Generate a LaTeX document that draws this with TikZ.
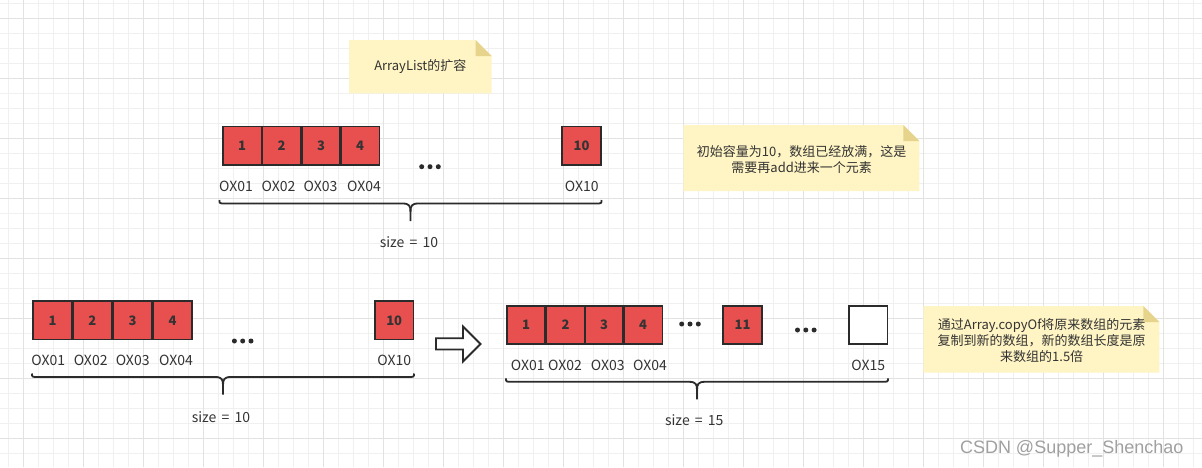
\documentclass[tikz,border=0pt]{standalone}
\usepackage{fontspec}
\setmainfont{Noto Sans CJK SC}
\newfontfamily\wmfont{Liberation Sans}
\definecolor{cellred}{HTML}{E85050}
\definecolor{boxline}{HTML}{2B2B2B}
\definecolor{txt}{HTML}{333333}
\definecolor{notefill}{HTML}{FFF4C3}
\definecolor{notefold}{HTML}{E6D38C}
\definecolor{gridminor}{HTML}{F0F0F0}
\definecolor{gridmajor}{HTML}{E2E2E2}
\definecolor{wmgray}{HTML}{A0A0A0}
\newcommand\mybrace[3]{%
  \pgfmathsetmacro\bxc{(#1+#2)/2}%
  \draw[bracestyle] (#1,#3) .. controls (#1,#3+3.5) .. (#1+6,#3+3.5) -- (\bxc-8,#3+3.5) .. controls (\bxc-1,#3+3.5) and (\bxc,#3+6) .. (\bxc,#3+12) -- (\bxc,#3+21);
  \draw[bracestyle] (\bxc,#3+12) .. controls (\bxc,#3+6) and (\bxc+1,#3+3.5) .. (\bxc+8,#3+3.5) -- (#2-6,#3+3.5) .. controls (#2,#3+3.5) .. (#2,#3);
}
\newcommand\mynote[4]{%
  \fill[notefill] (#1,#2) -- (#3-16,#2) -- (#3,#2+16) -- (#3,#4) -- (#1,#4) -- cycle;
  \fill[notefold] (#3-16,#2) -- (#3-16,#2+16) -- (#3,#2+16) -- cycle;
}
\newcommand\mydots[2]{%
  \fill[boxline] (#1-8.3,#2) circle (2.5) (#1,#2) circle (2.5) (#1+8.3,#2) circle (2.5);
}
\begin{document}
\begin{tikzpicture}[x=1pt,y=-1pt,
  cell/.style={draw=boxline, line width=1.8pt, fill=cellred, minimum width=38.5pt, minimum height=38.5pt, inner sep=0pt, font=\fontsize{13}{15}\selectfont\bfseries, text=txt},
  emptycell/.style={cell, fill=white},
  lbl/.style={font=\fontsize{14}{16}\selectfont, text=txt, inner sep=0pt},
  notetext/.style={font=\fontsize{13}{16}\selectfont, text=txt, inner sep=0pt, align=center},
  bracestyle/.style={draw=boxline, line width=1.8pt},
  bigarrow/.style={draw=boxline, line width=1.8pt, fill=white, line join=miter}]
\useasboundingbox (0,0) rectangle (1202,467);
\fill[white] (0,0) rectangle (1202,467);
% grid
\foreach \i in {0,...,79} {\draw[gridminor, line width=1pt] (8.3+15*\i,0) -- (8.3+15*\i,467);}
\foreach \i in {0,...,30} {\draw[gridminor, line width=1pt] (0,3.3+15*\i) -- (1202,3.3+15*\i);}
\foreach \i in {0,...,19} {\draw[gridmajor, line width=1pt] (23.3+60*\i,0) -- (23.3+60*\i,467);}
\foreach \i in {0,...,7} {\draw[gridmajor, line width=1pt] (0,18.3+60*\i) -- (1202,18.3+60*\i);}

% notes
\mynote{349}{40}{491.7}{93.3}
\node[notetext] (n1) at (420.3,67) {ArrayList的扩容};
\mynote{683.3}{125}{919.3}{191}
\node[notetext] (n2) at (801.7,159.2) {初始容量为10，数组已经放满，这是\\需要再add进来一个元素};
\mynote{923.3}{306}{1159.3}{372.7}
\node[notetext] (n3) at (1041.7,341) {通过Array.copyOf将原来数组的元素\\复制到新的数组，新的数组长度是原\\来数组的1.5倍};

% top array
\node[cell] (t1) at (242.2,145.8) {1};
\node[cell] (t2) at (281.7,145.8) {2};
\node[cell] (t3) at (321,145.8) {3};
\node[cell] (t4) at (360.2,145.8) {4};
\node[cell] (t10) at (581.5,145.8) {10};
\mydots{430}{166.7}
\node[lbl] (lt1) at (236,186) {OX01};
\node[lbl] (lt2) at (278.5,186) {OX02};
\node[lbl] (lt3) at (320.5,186) {OX03};
\node[lbl] (lt4) at (364,186) {OX04};
\node[lbl] (lt10) at (581.7,186) {OX10};
\mybrace{219.5}{601.5}{200}
\node[lbl] (st) at (409,241.7) {size\hspace{0.15em} = \hspace{0.15em}10};

% bottom-left array
\node[cell] (a1) at (52.5,320.3) {1};
\node[cell] (a2) at (92.3,320.3) {2};
\node[cell] (a3) at (132.5,320.3) {3};
\node[cell] (a4) at (172.5,320.3) {4};
\node[cell] (a10) at (394.2,320.3) {10};
\mydots{242.7}{341}
\node[lbl] (la1) at (48.3,360) {OX01};
\node[lbl] (la2) at (90.7,360) {OX02};
\node[lbl] (la3) at (132.7,360) {OX03};
\node[lbl] (la4) at (176,360) {OX04};
\node[lbl] (la10) at (394.3,360) {OX10};
\mybrace{32}{414}{373.5}
\node[lbl] (sa) at (221,416.7) {size\hspace{0.15em} = \hspace{0.15em}10};

% arrow
\draw[bigarrow] (436,338.3) -- (463,338.3) -- (463,326.5) -- (480.5,344) -- (463,361.5) -- (463,349.5) -- (436,349.5) -- cycle;

% bottom-right array
\node[cell] (b1) at (526,325) {1};
\node[cell] (b2) at (565.5,325) {2};
\node[cell] (b3) at (604,325) {3};
\node[cell] (b4) at (643.2,325) {4};
\node[cell] (b11) at (742.5,325) {11};
\node[emptycell] (b15) at (868.2,325) {};
\mydots{690}{324}
\mydots{805.8}{330}
\node[lbl] (lb1) at (527.7,365) {OX01};
\node[lbl] (lb2) at (565,365) {OX02};
\node[lbl] (lb3) at (607.7,365) {OX03};
\node[lbl] (lb4) at (650,365) {OX04};
\node[lbl] (lb15) at (868.3,365) {OX15};
\mybrace{506}{888}{378.3}
\node[lbl] (sb) at (694.3,420) {size\hspace{0.15em} = \hspace{0.15em}15};

% watermark
\node[font=\wmfont\fontsize{18}{20}\selectfont, text=wmgray, inner sep=0pt] (wm) at (1071.7,448.5) {CSDN @Supper\_Shenchao};
\end{tikzpicture}
\end{document}
